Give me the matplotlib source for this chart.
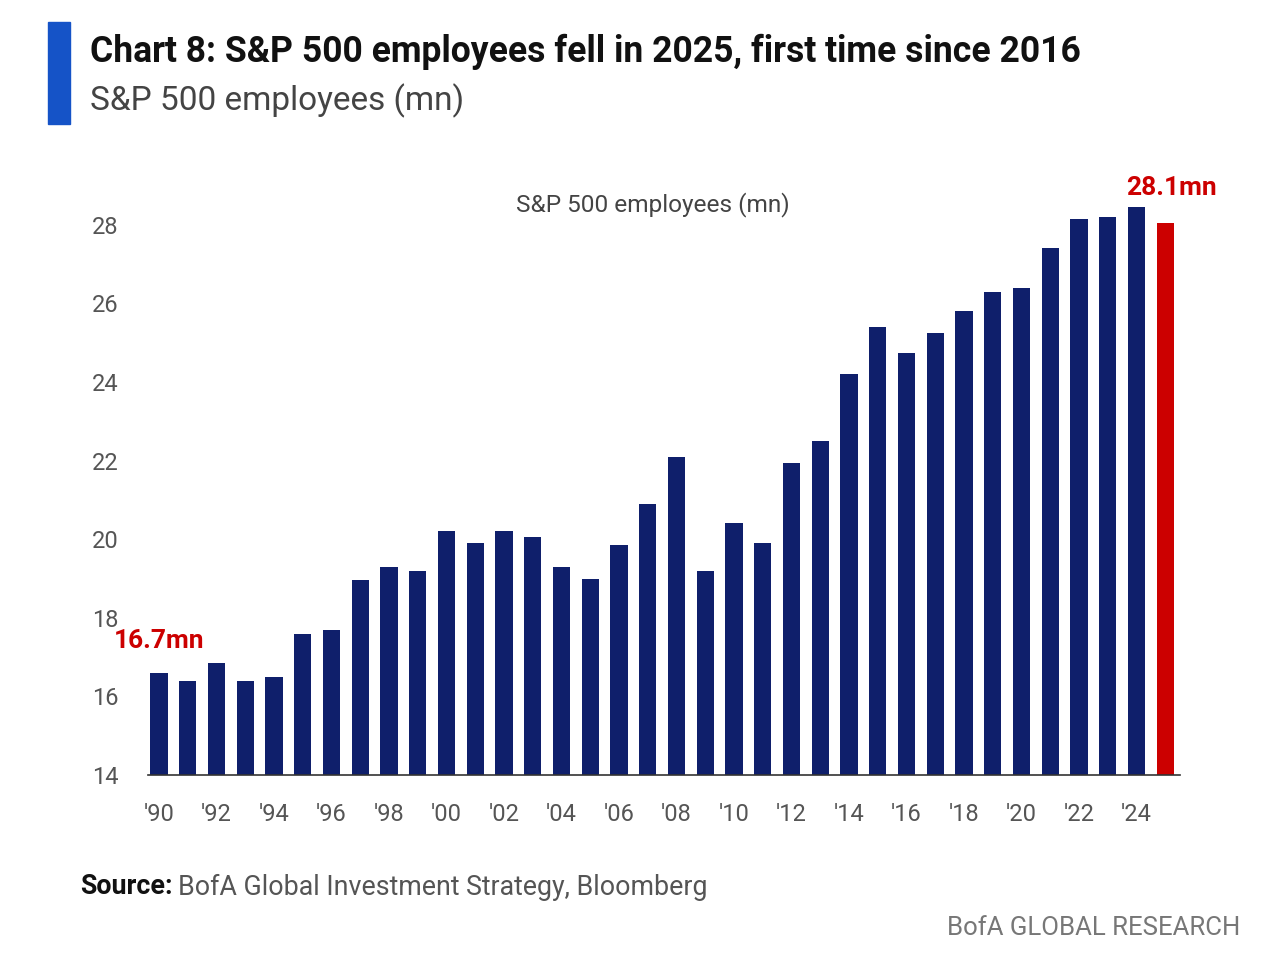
import numpy as np
import matplotlib
matplotlib.use('Agg')
import matplotlib.pyplot as plt
from matplotlib.patches import Rectangle

###############################################################################
# Dados
###############################################################################
years = list(range(1990, 2026))
employees = [16.6, 16.4, 16.85, 16.4, 16.5, 17.6, 17.7, 18.95, 19.3, 19.2,
             20.2, 19.9, 20.2, 20.05, 19.3, 19.0, 19.85, 20.9, 22.1, 19.2,
             20.4, 19.9, 21.95, 22.5, 24.2, 25.4, 24.75, 25.25, 25.8, 26.3,
             26.4, 27.4, 28.15, 28.2, 28.45, 28.05]
tick_labels = ["'%02d" % (y % 100) for y in years[::2][:18]]

title = 'Chart 8: S&P 500 employees fell in 2025, first time since 2016'
subtitle = 'S&P 500 employees (mn)'

navy = '#0f1f6b'
red = '#cc0000'
gray = '#555555'

plt.rcParams['font.family'] = ['Roboto', 'DejaVu Sans']

###############################################################################
# Gráfico
###############################################################################
fig = plt.figure(figsize=(12.8, 9.68), dpi=100)
ax = fig.add_axes([0.1156, 0.1994, 0.922 - 0.1156, 0.8083 - 0.1994])

x = np.arange(len(years))
colors = [navy] * (len(years) - 1) + [red]
ax.bar(x, employees, width=0.6, color=colors, bottom=0)

ax.set_ylim(14, 29)
ax.set_xlim(-0.38, 35.52)
ax.set_yticks([14, 16, 18, 20, 22, 24, 26, 28])
ax.set_xticks(x[::2])
ax.set_xticklabels(tick_labels)
ax.tick_params(axis='both', length=0, labelsize=17, colors=gray)
ax.tick_params(axis='y', pad=21)
ax.tick_params(axis='x', pad=20)
for s in ['top', 'right', 'left']:
    ax.spines[s].set_visible(False)
ax.spines['bottom'].set_color('#333333')
ax.spines['bottom'].set_linewidth(1.2)

ax.text(0.489, 0.967, subtitle, transform=ax.transAxes, ha='center', va='center',
        fontsize=17.6, color='#444444')

ax.annotate('16.7mn', (x[0], employees[0]), xytext=(0.0, 17.4),
            ha='center', va='center', fontsize=19, fontweight='bold', color=red)
ax.annotate('28.1mn', (x[-1], employees[-1]), xytext=(x[-1] + 0.2, 28.95),
            ha='center', va='center', fontsize=19, fontweight='bold', color=red,
            annotation_clip=False)

# Barra azul do título
fig.patches.append(Rectangle((48 / 1280, 1 - 124 / 968), 22 / 1280, 102 / 968,
                             transform=fig.transFigure, color='#1553c7'))
fig.text(90 / 1280, 1 - 52 / 968, title, fontsize=25.6, fontweight='bold',
         color='#111111', va='center', ha='left')
fig.text(90 / 1280, 1 - 101 / 968, subtitle, fontsize=24, color='#444444',
         va='center', ha='left')

src = fig.text(80 / 1280, 1 - 887 / 968, 'Source:', fontsize=19.3, fontweight='bold',
               color='#111111', va='center', ha='left')
fig.canvas.draw()
bb = src.get_window_extent()
fig.text(bb.x1 / 1280 + 0.004, 1 - 887 / 968, 'BofA Global Investment Strategy, Bloomberg',
         fontsize=19.3, color=gray, va='center', ha='left')
fig.text(1240 / 1280, 1 - 928 / 968, 'BofA GLOBAL RESEARCH', fontsize=18.5,
         color='#777777', va='center', ha='right')

plt.savefig('out.png', dpi=100)
